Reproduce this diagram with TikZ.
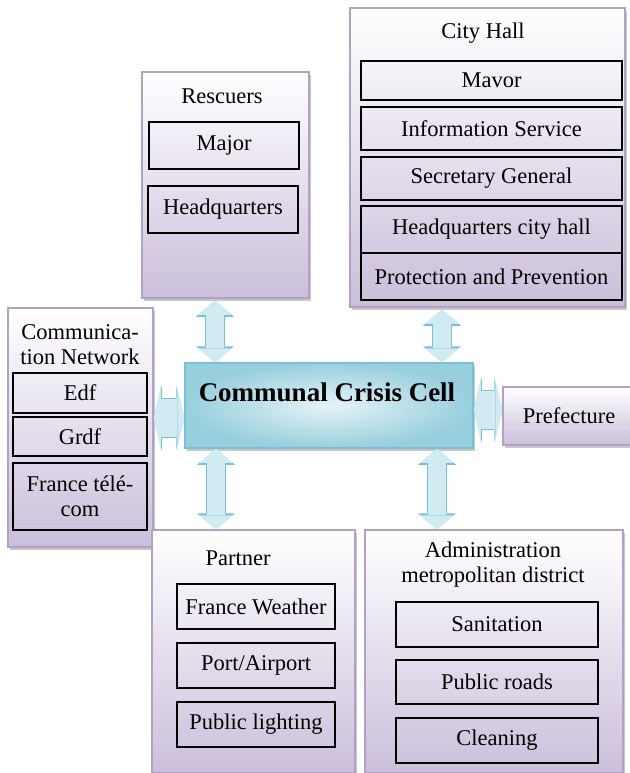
\documentclass[tikz,border=0pt]{standalone}
\usepackage{fontspec}
\setmainfont{Liberation Serif}
\newfontfamily\timesfont{Liberation Serif}
\usetikzlibrary{arrows.meta,positioning,shadows,calc}
\definecolor{lavline}{RGB}{178,160,199}
\definecolor{lavfill}{RGB}{203,191,219}
\definecolor{arrfill}{RGB}{208,235,242}
\definecolor{arrline}{RGB}{120,192,210}
\definecolor{cellin}{RGB}{230,243,247}
\definecolor{cellout}{RGB}{152,207,221}
\tikzset{
  grp/.style={draw=lavline, line width=1.5pt, top color=white, bottom color=lavfill, inner sep=0pt,
    drop shadow={shadow xshift=2pt, shadow yshift=-3pt, fill=gray!80, opacity=.55}},
  item/.style={draw=black, line width=1.1pt, align=center, inner sep=0pt},
  ttl/.style={align=center, inner sep=0pt},
  cell/.style={draw=arrline, line width=1.5pt, inner color=cellin, outer color=cellout, inner sep=0pt,
    drop shadow={shadow xshift=2pt, shadow yshift=-3pt, fill=gray!80, opacity=.55}},
  varr/.style={draw=arrfill, line width=18pt,
    {Triangle[width=34pt,length=14pt,line width=0pt]}-{Triangle[width=34pt,length=14pt,line width=0pt]},
    preaction={draw=arrline, line width=20.5pt,
      {Triangle[width=38pt,length=16pt,line width=0pt]}-{Triangle[width=38pt,length=16pt,line width=0pt]}}},
  harr/.style={draw=arrfill, line width=38pt,
    {Triangle[width=62pt,length=7pt,line width=0pt]}-{Triangle[width=62pt,length=7pt,line width=0pt]},
    preaction={draw=arrline, line width=40.5pt,
      {Triangle[width=65pt,length=8pt,line width=0pt]}-{Triangle[width=65pt,length=8pt,line width=0pt]}}},
}
\begin{document}
\begin{tikzpicture}[x=1pt, y=-1pt, font=\timesfont\fontsize{22.5}{25}\selectfont]
  \useasboundingbox (0,0) rectangle (629,773);
  % Rescuers
  \node[grp, minimum width=167pt, minimum height=226pt] (resc) at (225.5,185) {};
  \node[ttl] (resct) at (222,96) {Rescuers};
  \node[item, minimum width=150pt, minimum height=47pt] (major) at (224,145.5) {Major};
  \node[item, minimum width=150pt, minimum height=47pt] (hq) at (223,209.5) {Headquarters};
  % City Hall
  \node[grp, minimum width=275pt, minimum height=299pt] (hall) at (487.5,157.5) {};
  \node[ttl] (hallt) at (483,33) {City Hall};
  \node[item, minimum width=261pt, minimum height=39pt] (mayor) at (491.5,80.5) {Mavor};
  \node[item, minimum width=261pt, minimum height=43pt] (info) at (491.5,128.5) {Information Service};
  \node[item, minimum width=261pt, minimum height=43pt] (secr) at (491.5,178.5) {Secretary General};
  \node[item, minimum width=261pt, minimum height=47pt] (hqch) at (491.5,229.5) {Headquarters city hall};
  \node[item, minimum width=261pt, minimum height=47pt] (prot) at (491.5,276.5) {Protection and Prevention};
  % Communication network
  \node[grp, minimum width=145pt, minimum height=239pt] (comm) at (80.5,427.5) {};
  \node[ttl] (commt) at (80,345) {Communica-\\tion Network};
  \node[item, minimum width=134pt, minimum height=40pt] (edf) at (80,393) {Edf};
  \node[item, minimum width=134pt, minimum height=39pt] (grdf) at (80,436.5) {Grdf};
  \node[item, minimum width=134pt, minimum height=67pt] (ftel) at (80,496.5) {France télé-\\com};
  % crisis cell
  \node[cell, minimum width=288pt, minimum height=85pt] (ccc) at (329,405.5) {};
  \node[ttl, font=\timesfont\fontsize{27}{30}\selectfont\bfseries] (ccct) at (327,392) {Communal Crisis Cell};
  \node[grp, minimum width=132pt, minimum height=58pt] (pref) at (569,416) {Prefecture};
  % Partner
  \node[grp, minimum width=203pt, minimum height=243pt] (part) at (253.5,651.5) {};
  \node[ttl] (partt) at (238,558) {Partner};
  \node[item, minimum width=158pt, minimum height=45pt] (meteo) at (256,606.5) {France Weather};
  \node[item, minimum width=158pt, minimum height=45pt] (port) at (256,665.5) {Port/Airport};
  \node[item, minimum width=158pt, minimum height=45pt] (light) at (256,724.5) {Public lighting};
  % Administration
  \node[grp, minimum width=258pt, minimum height=243pt] (adm) at (494,651.5) {};
  \node[ttl] (admt) at (493,565) {Administration\\metropolitan district};
  \node[item, minimum width=202pt, minimum height=45pt] (sani) at (497,624.5) {Sanitation};
  \node[item, minimum width=202pt, minimum height=44pt] (road) at (497,682) {Public roads};
  \node[item, minimum width=202pt, minimum height=45pt] (clean) at (497,740.5) {Cleaning};
  % links
  \coordinate (a1) at ([xshift=-10.5pt]resc.south);
  \coordinate (a2) at ([xshift=-45.5pt]hall.south);
  \coordinate (a3) at ([yshift=-12.5pt]ccc.west);
  \coordinate (a4) at ([yshift=-4.5pt]ccc.east);
  \coordinate (a5) at ([xshift=-37.5pt]part.north);
  \coordinate (a6) at ([xshift=-57pt]adm.north);
  \draw[varr] ([yshift=-2pt]a1) -- (a1 |- ccc.north);
  \draw[varr] ([yshift=-2pt]a2) -- (a2 |- ccc.north);
  \draw[harr] (a3 -| comm.east) -- (a3);
  \draw[harr] (a4) -- (a4 -| pref.west);
  \draw[varr] (a5 |- ccc.south) -- (a5);
  \draw[varr] (a6 |- ccc.south) -- (a6);
\end{tikzpicture}
\end{document}
